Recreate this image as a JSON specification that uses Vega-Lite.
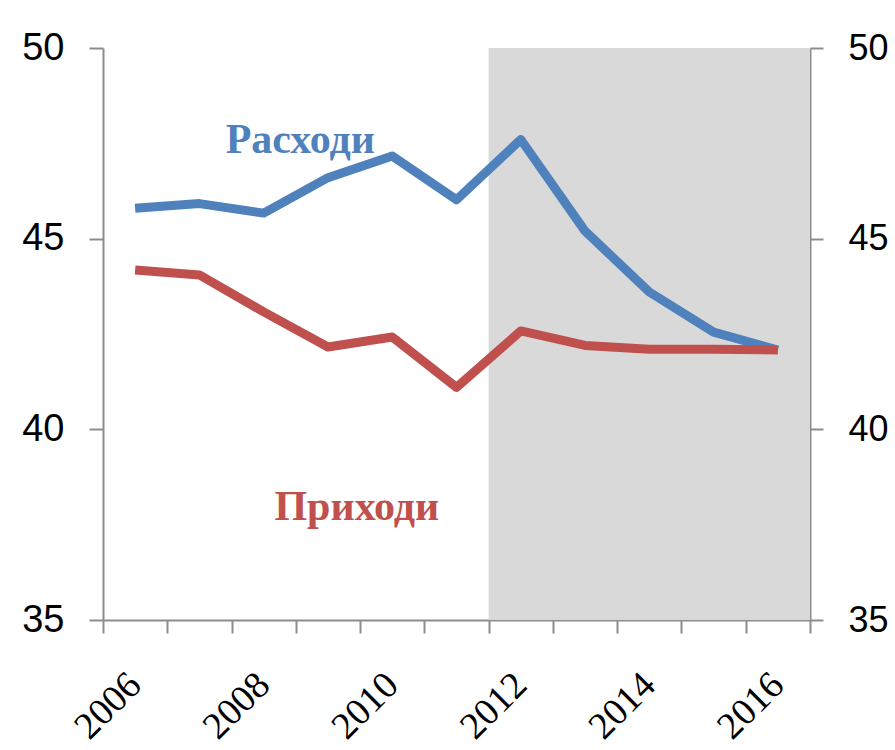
{
  "$schema": "https://vega.github.io/schema/vega-lite/v6.json",
  "width": 707,
  "height": 572,
  "autosize": "none",
  "padding": {"left": 103, "top": 48, "right": 85, "bottom": 130},
  "background": "white",
  "config": {"view": {"stroke": null}},
  "datasets": {
    "series": [
      {"year": 2006, "value": 45.8, "series": "Расходи"},
      {"year": 2007, "value": 45.92, "series": "Расходи"},
      {"year": 2008, "value": 45.67, "series": "Расходи"},
      {"year": 2009, "value": 46.6, "series": "Расходи"},
      {"year": 2010, "value": 47.17, "series": "Расходи"},
      {"year": 2011, "value": 46.02, "series": "Расходи"},
      {"year": 2012, "value": 47.6, "series": "Расходи"},
      {"year": 2013, "value": 45.2, "series": "Расходи"},
      {"year": 2014, "value": 43.6, "series": "Расходи"},
      {"year": 2015, "value": 42.55, "series": "Расходи"},
      {"year": 2016, "value": 42.08, "series": "Расходи"},
      {"year": 2006, "value": 44.18, "series": "Приходи"},
      {"year": 2007, "value": 44.05, "series": "Приходи"},
      {"year": 2008, "value": 43.08, "series": "Приходи"},
      {"year": 2009, "value": 42.16, "series": "Приходи"},
      {"year": 2010, "value": 42.42, "series": "Приходи"},
      {"year": 2011, "value": 41.1, "series": "Приходи"},
      {"year": 2012, "value": 42.58, "series": "Приходи"},
      {"year": 2013, "value": 42.2, "series": "Приходи"},
      {"year": 2014, "value": 42.1, "series": "Приходи"},
      {"year": 2015, "value": 42.1, "series": "Приходи"},
      {"year": 2016, "value": 42.08, "series": "Приходи"}
    ],
    "labels": [
      {"year": 2008.57, "value": 47.6, "series": "Расходи"},
      {"year": 2009.45, "value": 37.96, "series": "Приходи"}
    ],
    "shade": [
      {"start": 2011.5, "end": 2016.5, "low": 35, "high": 50}
    ]
  },
  "resolve": {"axis": {"y": "independent"}},
  "layer": [
    {
      "data": {"name": "shade"},
      "mark": {"type": "rect", "color": "#D9D9D9"},
      "encoding": {
        "x": {
          "field": "start", "type": "quantitative",
          "scale": {"domain": [2005.5, 2016.5], "nice": false, "zero": false},
          "axis": {
            "title": null,
            "values": [2005.5, 2006.5, 2007.5, 2008.5, 2009.5, 2010.5, 2011.5, 2012.5, 2013.5, 2014.5, 2015.5, 2016.5],
            "labelExpr": "(datum.value + 0.5) % 2 == 0 ? format(datum.value + 0.5, 'd') : ''",
            "labelOverlap": false,
            "labelFlush": false,
            "labelBound": false,
            "labelOffset": 32,
            "grid": false,
            "domainColor": "#8C8C8C",
            "domainWidth": 2,
            "tickColor": "#8C8C8C",
            "tickWidth": 2,
            "tickSize": 13,
            "labelAngle": -45,
            "labelAlign": "right",
            "labelBaseline": "middle",
            "labelPadding": 46,
            "labelFont": "Liberation Serif",
            "labelFontSize": 38,
            "labelColor": "#000000"
          }
        },
        "x2": {"field": "end"},
        "y": {"field": "low", "type": "quantitative", "scale": {"domain": [35, 50], "nice": false, "zero": false}, "axis": null},
        "y2": {"field": "high"}
      }
    },
    {
      "data": {"name": "series"},
      "mark": {"type": "line", "strokeWidth": 9, "strokeJoin": "round"},
      "encoding": {
        "x": {"field": "year", "type": "quantitative"},
        "y": {
          "field": "value", "type": "quantitative",
          "scale": {"domain": [35, 50], "nice": false, "zero": false},
          "axis": {
            "title": null,
            "orient": "left",
            "values": [35, 40, 45, 50],
            "grid": false,
            "domainColor": "#8C8C8C",
            "domainWidth": 2,
            "tickColor": "#8C8C8C",
            "tickWidth": 2,
            "tickSize": 14,
            "labelPadding": 25,
            "labelFont": "Liberation Sans",
            "labelFontSize": 38,
            "labelColor": "#000000"
          }
        },
        "color": {
          "field": "series", "type": "nominal",
          "scale": {"domain": ["Расходи", "Приходи"], "range": ["#4F81BD", "#C0504D"]},
          "legend": null
        }
      }
    },
    {
      "data": {"name": "labels"},
      "mark": {"type": "text", "font": "Liberation Serif", "fontWeight": "bold", "fontSize": 42, "align": "center", "baseline": "middle"},
      "encoding": {
        "x": {"field": "year", "type": "quantitative"},
        "y": {
          "field": "value", "type": "quantitative",
          "scale": {"domain": [35, 50], "nice": false, "zero": false},
          "axis": {
            "title": null,
            "orient": "right",
            "values": [35, 40, 45, 50],
            "grid": false,
            "domainColor": "#8C8C8C",
            "domainWidth": 2,
            "tickColor": "#8C8C8C",
            "tickWidth": 2,
            "tickSize": 13,
            "labelPadding": 25,
            "labelFont": "Liberation Sans",
            "labelFontSize": 36,
            "labelColor": "#000000"
          }
        },
        "text": {"field": "series"},
        "color": {"field": "series", "type": "nominal", "legend": null}
      }
    }
  ]
}
